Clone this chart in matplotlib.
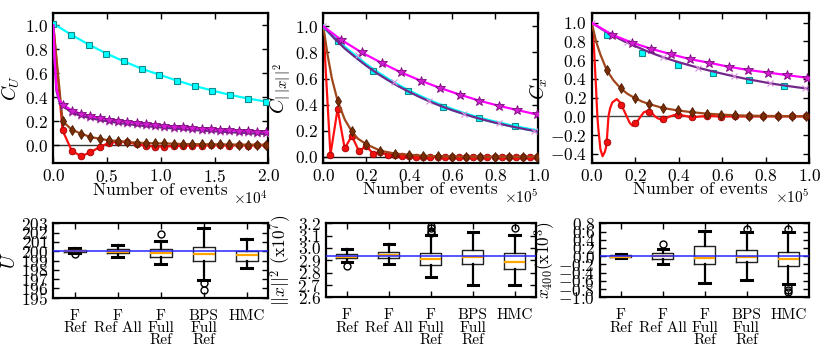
import matplotlib
matplotlib.use("Agg")
import matplotlib.pyplot as plt
import numpy as np
from matplotlib.ticker import ScalarFormatter, MultipleLocator

plt.rcParams.update({
    "font.family": "serif",
    "font.serif": ["cmr10"],
    "mathtext.fontset": "cm",
    "axes.formatter.use_mathtext": True,
    "font.size": 12.5,
    "axes.linewidth": 1.6,
})

# ---------------- Panel 1 : C_U ----------------
p1_cyan_x = [0, 1645, 3290, 4935, 6580, 8225, 9870, 11515, 13160, 14805, 16450, 18095, 19740]
p1_cyan_y = [1.014, 0.923, 0.840, 0.765, 0.699, 0.638, 0.588, 0.539, 0.494, 0.456, 0.420, 0.390, 0.365]
p1_cyan_line_x = p1_cyan_x + [20000]
p1_cyan_line_y = p1_cyan_y + [0.362]

p1_dense_x = [0, 862, 1724, 2586, 3448, 4310, 5172, 6034, 6896, 7758, 8620, 9482, 10344,
              11206, 12068, 12930, 13792, 14654, 15516, 16378, 17240, 18102, 18964, 19826]
p1_mag_y = [1.0, 0.34, 0.29, 0.262, 0.243, 0.228, 0.215, 0.204, 0.194, 0.185, 0.177, 0.170,
            0.163, 0.156, 0.150, 0.144, 0.139, 0.134, 0.129, 0.125, 0.121, 0.117, 0.113, 0.110]
p1_pur_y = [1.0, 0.33, 0.272, 0.245, 0.226, 0.211, 0.198, 0.187, 0.177, 0.168, 0.160, 0.153,
            0.146, 0.140, 0.134, 0.128, 0.123, 0.118, 0.114, 0.109, 0.105, 0.101, 0.097, 0.094]
p1_brn_y = [1.0, 0.201, 0.130, 0.097, 0.069, 0.055, 0.041, 0.036, 0.028, 0.022, 0.019, 0.016,
            0.016, 0.013, 0.011, 0.010, 0.009, 0.008, 0.008, 0.007, 0.006, 0.006, 0.005, 0.005]
p1_red_y = [1.0, 0.124, -0.047, -0.091, -0.058, -0.015, 0.020, 0.030, 0.025, 0.010, -0.005, -0.010,
            -0.010, -0.008, -0.005, -0.002, -0.002, 0.0, 0.0, -0.002, 0.0, -0.002, 0.0, 0.0]
p1_head_x = [0, 120, 300, 550]
p1_mag_head = [1.0, 0.72, 0.47, 0.38]
p1_pur_head = [1.0, 0.70, 0.45, 0.365]

# ---------------- Panel 2 : C_||x||^2 ----------------
p2_mag_x = [0, 8200, 17800, 27100, 36100, 45400, 54400, 63600, 72600, 81600, 90200, 99200]
p2_mag_y = [1.0, 0.898, 0.80, 0.72, 0.647, 0.583, 0.527, 0.476, 0.43, 0.391, 0.358, 0.325]
p2_grid_x = [0, 5000, 10000, 15000, 20000, 25000, 30000, 35000, 40000, 45000, 50000,
             55000, 60000, 65000, 70000, 75000, 80000, 85000, 90000, 95000, 100000]
p2_cyan_line_y = [1.0, 0.915, 0.838, 0.77, 0.705, 0.648, 0.595, 0.547, 0.503, 0.463, 0.426,
                  0.393, 0.362, 0.334, 0.309, 0.286, 0.265, 0.246, 0.228, 0.212, 0.198]
p2_pur_line_y = [1.0, 0.91, 0.83, 0.762, 0.698, 0.64, 0.588, 0.54, 0.497, 0.457, 0.42,
                 0.387, 0.357, 0.33, 0.305, 0.282, 0.261, 0.242, 0.224, 0.208, 0.194]
p2_cyan_x = [6700, 23000, 39500, 55800, 72400, 89100]
p2_cyan_y = [0.885, 0.66, 0.506, 0.384, 0.30, 0.233]
p2_pur_x = [0, 16350, 32700, 49050, 65400, 81750, 98100]
p2_pur_y = [1.0, 0.78, 0.575, 0.428, 0.328, 0.256, 0.197]
p2_brn_line_x = [0, 2000, 4000, 6640, 10000, 13280, 16000, 19920, 26560, 33200, 39840,
                 46480, 53120, 60000, 70000, 80000, 100000]
p2_brn_line_y = [1.0, 0.78, 0.60, 0.43, 0.285, 0.194, 0.14, 0.097, 0.046, 0.025, 0.015,
                 0.008, 0.004, 0.002, 0.001, 0.0, 0.0]
p2_brn_x = [0, 6640, 13280, 19920, 26560, 33200, 39840, 46480, 53120, 59760, 66400,
            73040, 79680, 86320, 92960, 99600]
p2_brn_y = [1.0, 0.43, 0.194, 0.097, 0.046, 0.025, 0.015, 0.008, 0.004, 0.002, 0.001,
            0.0, 0.0, 0.0, 0.0, 0.0]
p2_red_x = [0, 3320, 6640, 9960, 13280, 16600, 19920, 23240, 26560, 29880, 33200, 36520,
            39840, 43160, 46480, 49800, 53120, 56440, 59760, 63080, 66400, 69720, 73040,
            76360, 79680, 83000, 86320, 89640, 92960, 96280, 99600]
p2_red_y = [1.0, 0.015, 0.366, 0.064, 0.161, 0.041, 0.084, 0.022, 0.040, 0.012, 0.010, 0.004,
            0.003, 0.0, -0.002, 0.0, -0.002, 0.0, -0.002, -0.002, 0.0, -0.002, 0.0, -0.002,
            0.0, -0.002, 0.0, -0.002, 0.0, -0.002, -0.002]

# ---------------- Panel 3 : C_x ----------------
p3_mag_x = [0, 9300, 18400, 27400, 36300, 45200, 54100, 62900, 72000, 81000, 89900, 98800, 100000]
p3_mag_y = [1.0, 0.873, 0.788, 0.721, 0.664, 0.611, 0.572, 0.53, 0.495, 0.468, 0.440, 0.413, 0.41]
p3_pur_line_y = [1.0, 0.925, 0.86, 0.80, 0.75, 0.70, 0.655, 0.615, 0.578, 0.545, 0.513,
                 0.484, 0.456, 0.43, 0.405, 0.383, 0.362, 0.342, 0.325, 0.309, 0.295]
p3_cyan_x = [7200, 23300, 39500, 55700, 72300, 88500]
p3_cyan_y = [0.866, 0.678, 0.548, 0.459, 0.389, 0.329]
p3_pur_x = [0, 16350, 32700, 49050, 65400, 81750, 98100]
p3_pur_y = [1.0, 0.79, 0.637, 0.519, 0.428, 0.360, 0.300]
p3_brn_line_x = [0, 2000, 4000, 6900, 10000, 13300, 16500, 19900, 23000, 26500, 32900, 39500,
                 46000, 52800, 59300, 65900, 72400, 78900, 85500, 92000, 100000]
p3_brn_line_y = [1.0, 0.80, 0.66, 0.495, 0.385, 0.30, 0.24, 0.195, 0.16, 0.131, 0.089, 0.064,
                 0.045, 0.030, 0.020, 0.012, 0.008, 0.006, 0.004, 0.003, 0.002]
p3_brn_x = [0, 6900, 13300, 19900, 26500, 32900, 39500, 46000, 52800, 59300, 65900, 72400,
            78900, 85500, 92000, 98500]
p3_brn_y = [1.0, 0.495, 0.30, 0.195, 0.131, 0.089, 0.064, 0.045, 0.030, 0.020, 0.012, 0.008,
            0.006, 0.004, 0.003, 0.002]
p3_red_line_x = [0, 1000, 2000, 2600, 3000, 4000, 5000, 6000, 6500, 6900, 7300, 7700, 8500,
                 9500, 11500, 13000, 14500, 16100, 17500, 18800, 19900, 20500, 22500, 24000,
                 26000, 27500, 29100, 30500, 32200, 34000, 36000, 38000, 40000, 42000, 44000,
                 46000, 48000, 50000, 55000, 60000, 100000]
p3_red_line_y = [1.0, 0.75, 0.30, 0.0, -0.12, -0.35, -0.425, -0.38, -0.34, -0.27, -0.14, 0.0,
                 0.09, 0.15, 0.185, 0.15, 0.08, 0.0, -0.07, -0.099, -0.08, -0.07, 0.0, 0.045,
                 0.06, 0.04, 0.0, -0.022, -0.03, -0.02, 0.0, 0.015, 0.018, 0.01, 0.0, -0.008,
                 -0.006, 0.0, 0.004, 0.0, 0.0]
p3_red_x = [0, 6900, 13300, 19900, 26500, 32900, 39500, 46000, 52800, 59300, 65900, 72400,
            78900, 85500, 92000, 98500]
p3_red_y = [1.0, -0.275, 0.124, -0.07, 0.045, -0.026, 0.015, -0.01, 0.003, -0.005, 0.0, 0.0,
            0.0, 0.0, 0.0, 0.0]

# ---------------- Box plots ----------------
box_labels = ["F\nRef", "F\nRef All", "F\nFull\nRef", "BPS\nFull\nRef", "HMC"]

u_whislo = [199.85, 199.38, 198.6, 196.9, 198.2]
u_q1 = [199.9, 199.77, 199.38, 198.95, 199.0]
u_med = [200.0, 199.95, 199.77, 199.70, 199.56]
u_q3 = [200.15, 200.24, 200.24, 200.45, 200.0]
u_whishi = [200.3, 200.67, 201.1, 202.5, 201.3]
u_fliers = [[199.65], [], [201.8], [196.6, 195.8], []]
u_ref = 200.0

n_whislo = [2.889, 2.868, 2.762, 2.70, 2.703]
n_q1 = [2.916, 2.916, 2.862, 2.87, 2.832]
n_med = [2.93, 2.943, 2.911, 2.924, 2.889]
n_q3 = [2.951, 2.965, 2.962, 2.981, 2.957]
n_whishi = [2.989, 3.03, 3.105, 3.127, 3.105]
n_fliers = [[2.857], [], [3.12, 3.138, 3.16, 3.18], [], [3.16]]
n_ref = 2.938

x_whislo = [-0.05, -0.18, -0.64, -0.575, -0.67]
x_q1 = [-0.03, -0.07, -0.18, -0.15, -0.24]
x_med = [-0.01, 0.01, -0.04, -0.02, -0.06]
x_q3 = [0.03, 0.07, 0.245, 0.15, 0.10]
x_whishi = [0.05, 0.18, 0.62, 0.60, 0.60]
x_fliers = [[], [0.30], [], [0.655], [0.655, -0.76, -0.82, -0.88]]
x_ref = 0.0

# ---------------- styles ----------------
C_CYAN = "#00FFFF"
C_MAG = "#FF00FF"
C_PUR = "#72288A"
C_PURM = "#D890DC"
C_BRN = "#A0461A"
C_BRNM = "#7A2E08"
C_RED = "#FF1010"

W, H = 830, 354
fig = plt.figure(figsize=(W / 100, H / 100), dpi=100)


def rect(l, t, r, b):
    return [l / W, 1 - b / H, (r - l) / W, (b - t) / H]


ax1 = fig.add_axes(rect(53.3, 13.3, 268.3, 163.3))
ax2 = fig.add_axes(rect(323.3, 13.3, 538.3, 163.3))
ax3 = fig.add_axes(rect(591.7, 13.3, 809.3, 163.3))
ax4 = fig.add_axes(rect(53.3, 223.3, 268.3, 297.7))
ax5 = fig.add_axes(rect(326.0, 223.3, 535.7, 297.3))
ax6 = fig.add_axes(rect(600.0, 223.3, 809.3, 297.3))

lw = 1.6


def mark(ax, x, y, kind):
    if kind == "cyan":
        ax.plot(x, y, ls="none", marker="s", ms=4.8, mfc=C_CYAN, mec="#138a8a", mew=0.8, zorder=5)
    elif kind == "mag":
        ax.plot(x, y, ls="none", marker="*", ms=7.5, mfc="#D01ED0", mec="#7a0a7a", mew=0.6, zorder=7)
    elif kind == "pur":
        ax.plot(x, y, ls="none", marker="x", ms=4.5, mec=C_PURM, mew=0.8, zorder=6)
    elif kind == "brn":
        ax.plot(x, y, ls="none", marker="d", ms=5.5, mfc=C_BRNM, mec="#4a1a00", mew=0.6, zorder=4)
    elif kind == "red":
        ax.plot(x, y, ls="none", marker="o", ms=4.8, mfc="#F01010", mec="#a00000", mew=0.6, zorder=3)


# panel 1
ax = ax1
ax.axhline(0, color="#333333", lw=1.0, zorder=1)
ax.plot(p1_dense_x, p1_red_y, color=C_RED, lw=lw, zorder=2)
mark(ax, p1_dense_x[1:], p1_red_y[1:], "red")
ax.plot(p1_dense_x, p1_brn_y, color=C_BRN, lw=lw, zorder=3)
mark(ax, p1_dense_x[1:], p1_brn_y[1:], "brn")
ax.plot(p1_cyan_line_x, p1_cyan_line_y, color=C_CYAN, lw=lw, zorder=4)
mark(ax, p1_cyan_x, p1_cyan_y, "cyan")
ax.plot(p1_head_x + p1_dense_x[1:], p1_pur_head + p1_pur_y[1:], color=C_PUR, lw=lw, zorder=5)
mark(ax, p1_dense_x[1:], p1_pur_y[1:], "pur")
ax.plot(p1_head_x + p1_dense_x[1:], p1_mag_head + p1_mag_y[1:], color=C_MAG, lw=lw, zorder=6)
mark(ax, p1_dense_x[1:], p1_mag_y[1:], "mag")
ax.set_xlim(0, 20000)
ax.set_ylim(-0.15, 1.1)
ax.xaxis.set_major_locator(MultipleLocator(5000))
ax.yaxis.set_major_locator(MultipleLocator(0.2))
ax.set_ylabel(r"$C_U$", labelpad=2, fontsize=14)

# panel 2
ax = ax2
ax.axhline(0, color="#111111", lw=1.0, zorder=1)
ax.plot(p2_red_x, p2_red_y, color=C_RED, lw=lw, zorder=2)
mark(ax, p2_red_x[1:], p2_red_y[1:], "red")
ax.plot(p2_brn_line_x, p2_brn_line_y, color=C_BRN, lw=lw, zorder=3)
mark(ax, p2_brn_x[1:], p2_brn_y[1:], "brn")
ax.plot(p2_grid_x, p2_cyan_line_y, color=C_CYAN, lw=lw + 0.8, zorder=4)
mark(ax, p2_cyan_x, p2_cyan_y, "cyan")
ax.plot(p2_grid_x, p2_pur_line_y, color=C_PUR, lw=lw, zorder=5)
mark(ax, p2_pur_x, p2_pur_y, "pur")
ax.plot(p2_mag_x, p2_mag_y, color=C_MAG, lw=lw, zorder=6)
mark(ax, p2_mag_x[1:], p2_mag_y[1:], "mag")
ax.set_xlim(0, 100000)
ax.set_ylim(-0.05, 1.1)
ax.xaxis.set_major_locator(MultipleLocator(20000))
ax.yaxis.set_major_locator(MultipleLocator(0.2))
ax.set_ylabel(r"$C_{|\,|x|\,|^2}$", labelpad=1, fontsize=15)

# panel 3
ax = ax3
ax.axhline(0, color="#444444", lw=1.0, zorder=1)
ax.plot(p3_red_line_x, p3_red_line_y, color=C_RED, lw=lw, zorder=2)
mark(ax, p3_red_x[1:], p3_red_y[1:], "red")
ax.plot(p3_brn_line_x, p3_brn_line_y, color=C_BRN, lw=lw, zorder=3)
mark(ax, p3_brn_x[1:], p3_brn_y[1:], "brn")
mark(ax, p3_cyan_x, p3_cyan_y, "cyan")
ax.plot(p2_grid_x, p3_pur_line_y, color=C_PUR, lw=lw, zorder=5)
mark(ax, p3_pur_x, p3_pur_y, "pur")
ax.plot(p3_mag_x, p3_mag_y, color=C_MAG, lw=lw, zorder=6)
mark(ax, p3_mag_x[1:-1], p3_mag_y[1:-1], "mag")
ax.set_xlim(0, 100000)
ax.set_ylim(-0.5, 1.1)
ax.xaxis.set_major_locator(MultipleLocator(20000))
ax.yaxis.set_major_locator(MultipleLocator(0.2))
ax.set_ylabel(r"$C_x$", labelpad=0, fontsize=14)

for ax in (ax1, ax2, ax3):
    fmt = ScalarFormatter(useMathText=True)
    fmt.set_powerlimits((0, 0))
    ax.xaxis.set_major_formatter(fmt)
    ax.set_xlabel("Number of events", labelpad=-2)
    ax.tick_params(direction="in", top=True, right=True, length=4, width=1)
    ax.xaxis.get_offset_text().set_fontsize(11)


def boxes(ax, whislo, q1, med, q3, whishi, fliers, ref):
    stats = []
    for i in range(len(box_labels)):
        stats.append(dict(whislo=whislo[i], q1=q1[i], med=med[i], q3=q3[i],
                          whishi=whishi[i], fliers=fliers[i], label=box_labels[i]))
    ax.bxp(stats, widths=0.5,
           boxprops=dict(color="#222222", lw=1.0),
           whiskerprops=dict(color="black", lw=1.6, ls="-"),
           capprops=dict(color="black", lw=2.2),
           medianprops=dict(color="#FFA500", lw=1.6),
           flierprops=dict(marker="o", mfc="none", mec="black", ms=5, mew=1.0))
    ax.axhline(ref, color="#2828FF", lw=1.3, alpha=0.85, zorder=5)
    ax.set_xlim(0.5, 5.5)
    ax.tick_params(direction="in", top=True, right=True, length=4, width=1)
    ax.tick_params(axis="x", pad=8, labelsize=11)
    for t in ax.get_xticklabels():
        t.set_linespacing(0.88)
        t.set_verticalalignment("top")


boxes(ax4, u_whislo, u_q1, u_med, u_q3, u_whishi, u_fliers, u_ref)
ax4.set_ylim(195, 203)
ax4.yaxis.set_major_locator(MultipleLocator(1))
ax4.set_ylabel(r"$U$", labelpad=1, fontsize=14)

boxes(ax5, n_whislo, n_q1, n_med, n_q3, n_whishi, n_fliers, n_ref)
ax5.set_ylim(2.6, 3.2)
ax5.yaxis.set_major_locator(MultipleLocator(0.1))
ax5.set_ylabel(r"$||x||^2$ (x10$^7$)", labelpad=3)

boxes(ax6, x_whislo, x_q1, x_med, x_q3, x_whishi, x_fliers, x_ref)
ax6.set_ylim(-1.0, 0.8)
ax6.yaxis.set_major_locator(MultipleLocator(0.2))
ax6.set_ylabel(r"$x_{400}$(x10$^3$)", labelpad=1)

fig.savefig("out.png", dpi=100)
